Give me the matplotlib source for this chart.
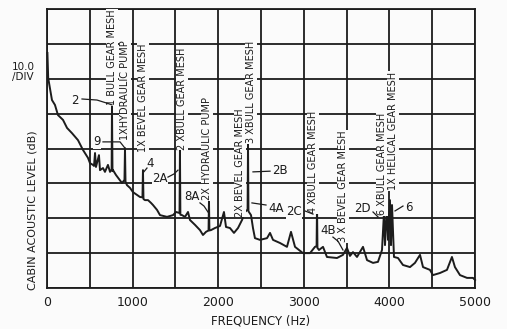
import matplotlib.pyplot as plt


OUTPUT_FILE = "out.png"

# cabin acoustic spectrum, narrow band
FREQ_HZ = [
    5, 14, 58, 93, 128, 187, 234, 292, 362, 420, 479, 502, 537, 549, 561,
    572, 607, 619, 654, 677, 712, 736, 755, 759, 765, 771, 806, 876, 905,
    911, 917, 934, 970, 1004, 1051, 1086, 1115, 1121, 1127, 1145, 1180,
    1215, 1238, 1285, 1320, 1402, 1472, 1507, 1548, 1553, 1558, 1577, 1612,
    1647, 1670, 1729, 1787, 1822, 1857, 1887, 1892, 1897, 1915, 1962, 2021,
    2067, 2091, 2137, 2184, 2231, 2278, 2313, 2343, 2348, 2353, 2383, 2406,
    2429, 2488, 2570, 2605, 2640, 2722, 2803, 2850, 2897, 2990, 3072, 3130,
    3149, 3154, 3159, 3177, 3224, 3270, 3387, 3457, 3504, 3539, 3574, 3621,
    3691, 3738, 3808, 3866, 3913, 3936, 3948, 3971, 3983, 4006, 4018, 4030,
    4053, 4100, 4158, 4240, 4298, 4357, 4392, 4473, 4508, 4590, 4672, 4730,
    4765, 4824, 4906, 4976, 5000,
]

LEVEL_DB = [
    67.4, 60.2, 53.9, 52.5, 49.6, 48.2, 45.9, 44.4, 42.4, 39.6, 37.3, 35.8,
    35.3, 35.0, 38.7, 34.7, 38.1, 33.8, 34.4, 33.3, 35.3, 33.3, 34.0, 52.5,
    33.5, 33.8, 32.4, 30.1, 31.0, 40.1, 30.5, 29.5, 28.7, 27.5, 26.7, 26.1,
    26.0, 33.8, 25.5, 25.2, 25.2, 24.4, 23.8, 22.4, 20.9, 20.4, 20.9, 21.8,
    21.5, 39.6, 21.0, 20.9, 20.4, 21.8, 19.5, 18.1, 16.6, 15.2, 16.1, 16.5,
    25.2, 16.5, 16.6, 17.2, 17.8, 21.8, 17.5, 17.2, 15.8, 17.2, 19.5, 21.8,
    22.5, 41.6, 22.0, 20.9, 17.2, 14.3, 13.8, 14.3, 15.8, 13.8, 12.9, 11.8,
    16.1, 11.8, 10.0, 10.0, 11.8, 12.0, 23.8, 11.5, 10.9, 11.8, 8.9, 8.6,
    9.5, 11.5, 9.2, 10.3, 8.9, 11.8, 8.0, 7.2, 7.5, 10.9, 21.5, 12.3, 23.8,
    13.8, 25.2, 12.3, 23.8, 8.9, 8.6, 6.6, 6.0, 7.2, 9.5, 6.0, 5.2, 3.7,
    4.3, 5.2, 8.9, 6.0, 3.7, 2.9, 2.9, 2.3,
]

# source identification, written upright above each tone
SOURCE_LABELS = [
    "1 BULL GEAR MESH", "1XHYDRAULIC PUMP", "1X BEVEL GEAR MESH",
    "2 XBULL GEAR MESH", "2X HYDRAULIC PUMP", "2X BEVEL GEAR MESH",
    "3 XBULL GEAR MESH", "4 XBULL GEAR MESH", "3 X BEVEL GEAR MESH",
    "6 XBULL GEAR MESH", "1X HELICAL GEAR MESH",
]
SOURCE_HZ = [759, 911, 1121, 1577, 1869, 2254, 2383, 3107, 3457, 3913, 4041]
SOURCE_DB = [52.5, 42.4, 39.0, 39.6, 25.2, 20.4, 41.6, 21.5, 13.2, 20.9, 28.1]

# measurement point tags with their leader lines
TAGS = ["2", "9", "4", "2A", "8A", "2B", "4A", "2C", "4B", "2D", "6"]
TAG_HZ = [327, 584, 1203, 1320, 1694, 2721, 2675, 2885, 3290, 3679, 4228]
TAG_DB = [53.9, 41.9, 35.8, 31.5, 26.1, 33.8, 22.9, 21.8, 16.6, 22.9, 23.2]
LEADER_HZ = [
    [409, 584, 701, 759], [654, 853, 911], [1168, 1121],
    [1413, 1483, 1530], [1787, 1834, 1880], [2605, 2406], [2558, 2394],
    [3013, 3107], [3340, 3400, 3457], [3808, 3866], [4158, 4065],
]
LEADER_DB = [
    [54.2, 53.9, 53.0, 52.5], [41.9, 41.9, 40.1], [34.4, 33.0],
    [31.8, 32.7, 33.8], [24.4, 23.5, 21.8], [33.5, 33.3], [23.8, 24.4],
    [22.1, 21.2], [14.6, 13.4, 10.9], [21.8, 20.4], [23.5, 22.1],
]

INK = "#1c1c1c"
PAPER = "#fbfbfb"


def draw_spectrum():
    fig = plt.figure(figsize=(5.07, 3.29), dpi=100, facecolor=PAPER)
    ax = fig.add_axes([0.0927, 0.1246, 0.8443, 0.848])
    ax.set_facecolor(PAPER)

    ax.set_xlim(0, 5000)
    ax.set_ylim(0, 80)
    ax.set_xticks(range(0, 5001, 500))
    ax.set_xticklabels(
        [str(v) if v % 1000 == 0 else "" for v in range(0, 5001, 500)]
    )
    ax.set_yticks(range(0, 81, 10))
    ax.set_yticklabels([])
    ax.tick_params(length=0, pad=6, labelsize=9, colors=INK)

    ax.grid(True, color=INK, lw=1.3)
    for spine in ax.spines.values():
        spine.set_color(INK)
        spine.set_linewidth(1.3)

    ax.plot(FREQ_HZ, LEVEL_DB, color=INK, lw=1.4, clip_on=False, zorder=3)

    for text, hz, db in zip(SOURCE_LABELS, SOURCE_HZ, SOURCE_DB):
        ax.text(
            hz, db, text,
            rotation=90, ha="center", va="bottom",
            fontsize=7, color=INK, zorder=4,
            bbox=dict(facecolor=PAPER, edgecolor="none", pad=0.4),
            clip_on=False,
        )

    for text, hz, db in zip(TAGS, TAG_HZ, TAG_DB):
        ax.text(
            hz, db, text,
            ha="center", va="center",
            fontsize=8.5, color=INK, zorder=4,
            bbox=dict(facecolor=PAPER, edgecolor="none", pad=0.3),
        )

    for xs, ys in zip(LEADER_HZ, LEADER_DB):
        ax.plot(xs, ys, color=INK, lw=0.9, zorder=4)

    ax.set_xlabel("FREQUENCY (Hz)", fontsize=8.5, color=INK, labelpad=4)

    fig.text(
        33 / 507, 1 - 210 / 329, "CABIN ACOUSTIC LEVEL (dB)",
        rotation=90, ha="center", va="center", fontsize=8, color=INK,
    )
    fig.text(
        23 / 507, 1 - 72 / 329, "10.0\n/DIV",
        ha="center", va="center", fontsize=7.5, color=INK,
        linespacing=1.1,
    )

    fig.savefig(OUTPUT_FILE, dpi=100, facecolor=PAPER)
    plt.close(fig)


if __name__ == "__main__":
    draw_spectrum()
